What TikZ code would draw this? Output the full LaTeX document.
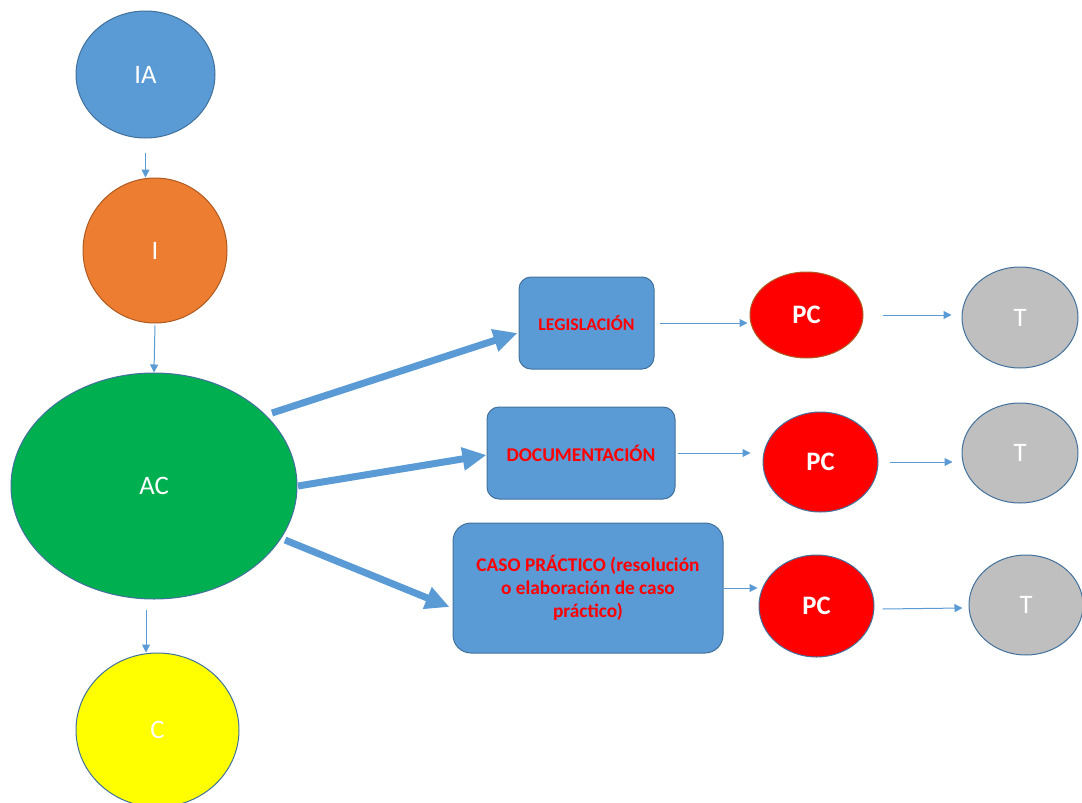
\documentclass[tikz,border=0pt]{standalone}
\usepackage{fontspec}
\setmainfont{Carlito}
\usetikzlibrary{arrows.meta,calc,shapes.geometric}
\definecolor{ablue}{HTML}{5B9BD5}
\definecolor{bblue}{HTML}{41719C}
\definecolor{aorange}{HTML}{ED7D31}
\definecolor{borange}{HTML}{AE5A21}
\definecolor{agreen}{HTML}{00B050}
\definecolor{ayellow}{HTML}{FFFF00}
\definecolor{ared}{HTML}{FF0000}
\definecolor{agray}{HTML}{BFBFBF}
\tikzset{
 circ/.style={ellipse, draw=bblue, line width=0.75pt, inner sep=0pt, text=white, font=\fontsize{20}{24}\selectfont},
 pcirc/.style={circ, fill=ared, font=\fontsize{20}{24}\selectfont\bfseries},
 boxn/.style={draw=bblue, fill=ablue, line width=0.75pt, rounded corners=9pt, inner sep=0pt, text=ared, align=center, font=\fontsize{13.3}{16}\selectfont\bfseries},
 lnk/.style={draw=ablue, line width=0.75pt, -{Triangle[length=6pt,width=6pt]}},
 blk/.style={draw=ablue, line width=5.25pt, -{Triangle[length=18pt,width=16.5pt]}}
}
\begin{document}
\begin{tikzpicture}[x=0.75pt,y=-0.75pt]
\useasboundingbox (0,0) rectangle (1082,803);
% left column
\node[circ, fill=ablue, minimum width=104.25pt, minimum height=95.25pt] (IA) at (145.5,74.5) {IA};
\node[circ, fill=aorange, draw=borange, minimum width=108pt, minimum height=108.75pt] (I) at (155,250.5) {I};
\node[circ, fill=agreen, minimum width=214.5pt, minimum height=169.5pt] (AC) at (154,486) {AC};
\node[circ, fill=ayellow, minimum width=122.25pt, minimum height=115.5pt] (C) at (157.5,730) {C};
% boxes
\node[boxn, minimum width=101.25pt, minimum height=69pt] (LEG) at (586.5,323) {LEGISLACIÓN};
\node[boxn, minimum width=141pt, minimum height=69pt, font=\fontsize{14.6}{17}\selectfont\bfseries] (DOC) at (581,453) {DOCUMENTACIÓN};
\node[boxn, minimum width=202.5pt, minimum height=97.5pt, rounded corners=13.5pt, font=\fontsize{14.5}{17.5}\selectfont\bfseries] (CASO) at (588,588) {CASO PRÁCTICO (resolución\\o elaboración de caso\\práctico)};
% PC
\node[pcirc, draw=borange, minimum width=84.75pt, minimum height=64.5pt] (PC1) at (806.5,315) {PC};
\node[pcirc, minimum width=86.25pt, minimum height=75pt] (PC2) at (820.5,462) {PC};
\node[pcirc, minimum width=86.25pt, minimum height=76.5pt] (PC3) at (816.5,606) {PC};
% T
\node[circ, fill=agray, minimum width=87pt, minimum height=75.75pt] (T1) at (1020,317.5) {T};
\node[circ, fill=agray, minimum width=87pt, minimum height=75pt] (T2) at (1020,453) {T};
\node[circ, fill=agray, minimum width=85.5pt, minimum height=75pt] (T3) at (1026,605) {T};
% vertical connectors
\coordinate (a1) at ($(IA.south)+(0,14)$);
\coordinate (a2) at (a1 |- I.north);
\draw[lnk] (a1) -- (a2);
\draw[lnk, shorten <=1.5pt] (I.south) -- (AC.north);
\coordinate (c1) at ($(AC.south)+(-8,10)$);
\coordinate (c2) at (c1 |- C.north);
\draw[lnk] (c1) -- (c2);
% thick arrows
\draw[blk] ($(AC)+(118,-73)$) -- ($(LEG.west)+(-1,10)$);
\draw[blk] ($(AC)+(144,0)$) -- ($(DOC.west)+(0,2)$);
\draw[blk] ($(AC)+(131,54)$) -- ($(CASO.west)+(-3,19)$);
% box to PC
\coordinate (l1) at ($(LEG.east)+(5,0)$);
\coordinate (l2) at ($(LEG.east -| PC1.west)+(-2,0)$);
\draw[lnk] (l1) -- (l2);
\coordinate (d1) at ($(DOC.east)+(2,0)$);
\coordinate (d2) at ($(DOC.east -| PC2.west)+(-12,0)$);
\draw[lnk] (d1) -- (d2);
\coordinate (k2) at ($(CASO.east -| PC3.west)+(-1,0)$);
\draw[lnk] (CASO.east) -- (k2);
% PC to T
\coordinate (p1) at ($(PC1.east)+(19,0)$);
\coordinate (p2) at ($(PC1.east -| T1.west)+(-10,0)$);
\draw[lnk] (p1) -- (p2);
\coordinate (q1) at ($(PC2.east)+(11,0)$);
\coordinate (q2) at ($(PC2.east -| T2.west)+(-9,0)$);
\draw[lnk] (q1) -- (q2);
\coordinate (r1) at ($(PC3.east)+(8,3)$);
\coordinate (r2) at ($(T3.west)+(-6,3)$);
\draw[lnk] (r1) -- (r2);
\end{tikzpicture}
\end{document}
